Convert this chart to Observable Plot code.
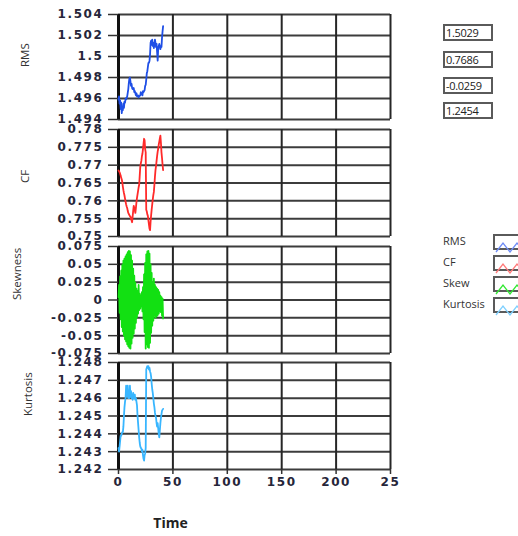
<!DOCTYPE html>
<html>
<head>
<meta charset="utf-8">
<script src="https://cdn.jsdelivr.net/npm/d3@7"></script>
<script src="https://cdn.jsdelivr.net/npm/@observablehq/plot@0.6"></script>
<style>
  html, body { margin: 0; padding: 0; background: #fff; }
  body { width: 518px; height: 536px; overflow: hidden; position: relative; font-family: "Open Sans", sans-serif; }
  .panel { position: absolute; left: 0; }
  .panel svg { overflow: visible; }
  g[aria-label="y-axis tick label"] text, g[aria-label="x-axis tick label"] text { letter-spacing: 1.6px; }
  .vbox { position: absolute; left: 443px; width: 45px; height: 13px; border: 2px solid #5a5a5a; background: #fff;
          font: 11px "Open Sans", sans-serif; color: #222; line-height: 13px; padding-left: 1px; white-space: nowrap; overflow: hidden; letter-spacing: -0.3px; }
  .leg { position: absolute; left: 443px; font: 11px "Open Sans", sans-serif; color: #333; }
  .sw { position: absolute; left: 493px; width: 34px; height: 12px; border: 2px solid #5a5a5a; background: #fff; }
</style>
</head>
<body>
<div id="root"></div>
<script>
// ---- data ----
const seriesNames = ["RMS", "CF", "Skewness", "Kurtosis"];
const legendNames = ["RMS", "CF", "Skew", "Kurtosis"];
const colors = ["#1f4fe6", "#ff2a2a", "#12e012", "#38b6ff"];
const swatchColors = ["#6f8cf5", "#ff7a7a", "#33e833", "#7fd0ff"];

const xTicks = [0, 50, 100, 150, 200, 250];
const xTickLabels = ["0", "50", "100", "150", "200", "25"];

const rmsTicks = [1.504, 1.502, 1.5, 1.498, 1.496, 1.494];
const rmsTickLabels = ["1.504", "1.502", "1.5", "1.498", "1.496", "1.494"];
const cfTicks = [0.78, 0.775, 0.77, 0.765, 0.76, 0.755, 0.75];
const cfTickLabels = ["0.78", "0.775", "0.77", "0.765", "0.76", "0.755", "0.75"];
const skewTicks = [0.075, 0.05, 0.025, 0, -0.025, -0.05, -0.075];
const skewTickLabels = ["0.075", "0.05", "0.025", "0", "-0.025", "-0.05", "-0.075"];
const kurtTicks = [1.248, 1.247, 1.246, 1.245, 1.244, 1.243, 1.242];
const kurtTickLabels = ["1.248", "1.247", "1.246", "1.245", "1.244", "1.243", "1.242"];

const rmsT = [0,0.5,1,1.5,2,2.5,3,3.5,4,4.5,5,5.5,6,6.5,7,8,9,9.5,10,10.5,11,11.5,12,12.5,13,14,14.5,15,16,16.5,17,18,18.5,19,20,20.5,21,22,22.5,23,24,24.5,25,25.5,26,26.5,27,27.5,28,28.5,29,29.5,30,30.5,31,31.5,32,32.5,33,33.5,34,34.5,35,35.5,36,36.5,37,37.5,38,38.5,39,39.5,40,40.5,41];
const rmsV = [1.4959,1.4962,1.4955,1.4958,1.4950,1.4956,1.4946,1.4952,1.4949,1.4955,1.4951,1.4957,1.4956,1.4960,1.4959,1.4962,1.4969,1.4975,1.4979,1.4980,1.4976,1.4972,1.4974,1.4970,1.4969,1.4970,1.4966,1.4967,1.4963,1.4965,1.4962,1.4963,1.4961,1.4962,1.4963,1.4966,1.4965,1.4963,1.4967,1.4966,1.4968,1.4972,1.4973,1.4978,1.4984,1.4986,1.4990,1.4994,1.4994,1.4996,1.5002,1.5013,1.5015,1.5011,1.5016,1.5010,1.5013,1.5008,1.5012,1.5016,1.5013,1.5009,1.5012,1.5004,1.4996,1.5008,1.5010,1.5012,1.5009,1.5007,1.5010,1.5009,1.5018,1.5024,1.5029];

const cfT = [0,0.5,1,1.5,2,2.5,3,3.5,4,4.5,5,5.5,6,6.5,7,7.5,8,8.5,9,9.5,10,10.5,11,11.5,12,12.5,13,13.5,14,14.5,15,15.5,16,16.5,17,17.5,18,18.5,19,19.5,20,20.5,21,21.5,22,22.5,23,23.5,24,24.5,25,25.5,26,26.5,27,27.5,28,28.5,29,29.5,30,30.5,31,31.5,32,32.5,33,33.5,34,34.5,35,35.5,36,36.5,37,37.5,38,38.5,39,39.5,40,40.5,41];
const cfV = [0.7685,0.7683,0.7680,0.7676,0.7670,0.7665,0.7660,0.7652,0.7640,0.7630,0.7622,0.7615,0.7606,0.7598,0.7590,0.7584,0.7580,0.7572,0.7566,0.7563,0.7560,0.7557,0.7556,0.7549,0.7545,0.7540,0.7556,0.7572,0.7586,0.7580,0.7574,0.7566,0.7580,0.7596,0.7608,0.7618,0.7628,0.7638,0.7645,0.7670,0.7695,0.7705,0.7712,0.7725,0.7732,0.7745,0.7760,0.7774,0.7770,0.7745,0.7736,0.7575,0.7570,0.7562,0.7558,0.7545,0.7533,0.7522,0.7518,0.7542,0.7560,0.7576,0.7590,0.7604,0.7616,0.7625,0.7645,0.7668,0.7686,0.7698,0.7712,0.7726,0.7738,0.7746,0.7758,0.7766,0.7775,0.7783,0.7762,0.7736,0.7720,0.7702,0.7686];

const skewT = cfT;
const skewV = [0.004,0.021,-0.018,0.033,-0.027,0.041,-0.038,0.049,-0.044,0.055,-0.050,0.058,-0.055,0.061,-0.058,0.064,-0.062,0.067,-0.065,0.069,-0.067,0.068,-0.068,0.063,-0.061,0.055,-0.053,0.044,-0.047,0.034,-0.040,0.024,-0.032,0.016,-0.024,0.012,-0.019,0.021,-0.014,0.009,-0.012,0.006,-0.009,0.011,-0.016,0.018,-0.027,0.036,-0.045,0.052,-0.068,0.064,-0.062,0.068,-0.066,0.069,-0.067,0.065,-0.060,0.050,-0.046,0.038,-0.036,0.024,-0.029,0.030,-0.022,0.021,-0.025,0.018,-0.023,0.016,-0.021,0.014,-0.019,0.011,-0.016,0.006,-0.017,0.004,-0.022,0.002,-0.0259];

const kurtT = [0,0.5,1,1.5,2,2.5,3,3.5,4,4.5,5,5.5,6,6.5,7,7.5,8,8.5,9,9.5,10,10.5,11,11.5,12,12.5,13,13.5,14,14.5,15,15.5,16,16.5,17,17.5,18,18.5,19,19.5,20,20.5,21,21.5,22,22.5,23,23.5,24,24.5,25,25.5,26,26.5,27,27.5,28,28.5,29,29.5,30,30.5,31,31.5,32,32.5,33,33.5,34,34.5,35,35.5,36,36.5,37,37.5,38,38.5,39,39.5,40,41];
const kurtV = [1.2432,1.2430,1.2433,1.2436,1.2439,1.2439,1.2440,1.2441,1.2441,1.2444,1.2450,1.2455,1.2458,1.2460,1.2467,1.2461,1.2463,1.2467,1.2460,1.2462,1.2460,1.2467,1.2461,1.2464,1.2460,1.2462,1.2459,1.2463,1.2461,1.2460,1.2462,1.2459,1.2460,1.2458,1.2456,1.2450,1.2446,1.2442,1.2438,1.2435,1.2433,1.2432,1.2432,1.2430,1.2431,1.2428,1.2426,1.2425,1.2428,1.2429,1.2432,1.2476,1.2477,1.2478,1.2477,1.2478,1.2476,1.2477,1.2475,1.2474,1.2472,1.2468,1.2465,1.2463,1.2460,1.2457,1.2455,1.2452,1.2450,1.2449,1.2446,1.2444,1.2446,1.2443,1.2440,1.2438,1.2442,1.2446,1.2449,1.2451,1.2453,1.2454];

// ---- layout ----
const root = document.getElementById("root");
const rows = (T, V) => T.map((t, i) => ({t, v: V[i]}));

const panels = [
  {name: seriesNames[0], data: rows(rmsT, rmsV), ticks: rmsTicks, labels: rmsTickLabels, color: colors[0], top: 14, h: 105, labelX: 25},
  {name: seriesNames[1], data: rows(cfT, cfV), ticks: cfTicks, labels: cfTickLabels, color: colors[1], top: 129, h: 107, labelX: 25},
  {name: seriesNames[2], data: rows(skewT, skewV), ticks: skewTicks, labels: skewTickLabels, color: colors[2], top: 246, h: 107, labelX: 17},
  {name: seriesNames[3], data: rows(kurtT, kurtV), ticks: kurtTicks, labels: kurtTickLabels, color: colors[3], top: 362, h: 107, labelX: 28, last: true}
];

const ML = 118, MR = 10, W = 400, MT = 10;
const tickFont = {fontFamily: "DejaVu Sans", fontSize: 12, fontWeight: "bold"};

panels.forEach(p => {
  const mb = p.last ? 70 : 10;
  const ymin = Math.min(...p.ticks), ymax = Math.max(...p.ticks);
  const marks = [
    Plot.gridY(p.ticks, {stroke: "#3c3c3c", strokeWidth: 2, strokeOpacity: 1}),
    Plot.gridX(xTicks, {stroke: "#262626", strokeWidth: 2, strokeOpacity: 1}),
    Plot.ruleX([0], {stroke: "#111", strokeWidth: 3}),
    Plot.axisY(p.ticks, {label: null, tickSize: 10, tickPadding: 5, stroke: "#333", strokeWidth: 1.5, fill: "#26263a",
      tickFormat: d => p.labels[p.ticks.indexOf(d)], ...tickFont}),
    Plot.line(p.data, {x: "t", y: "v", stroke: p.color, strokeWidth: 1.8}),
    Plot.text([p.name], {frameAnchor: "left", dx: p.labelX - ML, rotate: -90, text: d => d,
      fontFamily: "Open Sans", fontSize: 11.5, fill: "#333"})
  ];
  if (p.last) {
    marks.push(Plot.axisX(xTicks, {label: null, tickSize: 5, tickPadding: 3, stroke: "#333", strokeWidth: 1.5, fill: "#26263a",
      tickFormat: d => xTickLabels[xTicks.indexOf(d)], ...tickFont}));
    marks.push(Plot.text(["Time"], {frameAnchor: "bottom", dx: 170 - (ML + (W - ML - MR) / 2), dy: 54, lineAnchor: "middle",
      text: d => d, fontFamily: "Open Sans", fontSize: 14, fontWeight: "bold", fill: "#222"}));
  }
  const chart = Plot.plot({
    width: W, height: MT + p.h + mb,
    marginLeft: ML, marginRight: MR, marginTop: MT, marginBottom: mb,
    style: {background: "transparent", overflow: "visible"},
    x: {domain: [0, 250], axis: null, label: null},
    y: {domain: [ymin, ymax], axis: null, label: null},
    marks
  });
  const div = document.createElement("div");
  div.className = "panel";
  div.style.top = (p.top - MT) + "px";
  div.appendChild(chart);
  root.appendChild(div);
});

// value indicators (last value of each series)
const lastValues = [rmsV, cfV, skewV, kurtV].map(a => a[a.length - 1]);
const boxTops = [24, 51, 77, 102];
lastValues.forEach((v, i) => {
  const b = document.createElement("div");
  b.className = "vbox";
  b.style.top = boxTops[i] + "px";
  b.textContent = v.toFixed(4);
  root.appendChild(b);
});

// legend
const legTops = [234, 255, 276, 297];
legendNames.forEach((n, i) => {
  const t = document.createElement("div");
  t.className = "leg";
  t.style.top = (legTops[i] - 1) + "px";
  t.textContent = n;
  root.appendChild(t);
  const s = document.createElement("div");
  s.className = "sw";
  s.style.top = legTops[i] + "px";
  s.innerHTML = `<svg width="34" height="12"><polyline points="1,11 8,2 15,11 22,2 29,11 34,5" fill="none" stroke="${swatchColors[i]}" stroke-width="1.3"/></svg>`;
  root.appendChild(s);
});
</script>
</body>
</html>
